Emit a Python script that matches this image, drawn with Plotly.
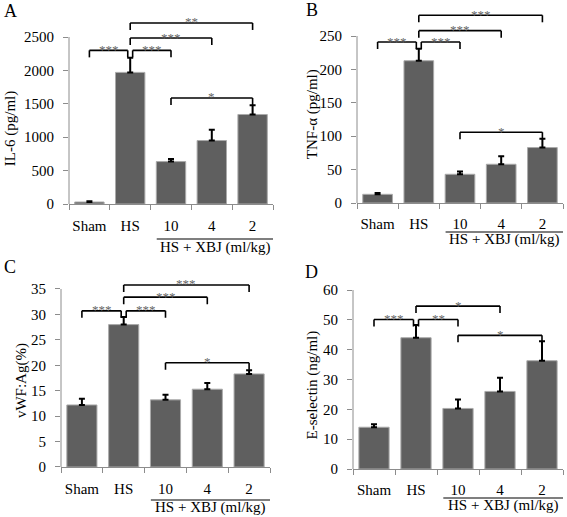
import plotly.graph_objects as go

W, H = 567, 517
FONT = "Liberation Serif"

categories = ["Sham", "HS", "10", "4", "2"]
group_label = "HS + XBJ (ml/kg)"

# Panel A: IL-6
il6_mean = [30, 1970, 635, 950, 1340]
il6_err = [12, 220, 40, 160, 140]
il6_ticks = [0, 500, 1000, 1500, 2000, 2500]
il6_sig = [(0, 1, 2300, "***"), (1, 2, 2300, "***"), (1, 3, 2485, "***"),
           (1, 4, 2710, "**"), (2, 4, 1587, "*")]

# Panel B: TNF-alpha
tnf_mean = [13, 213, 43, 58, 83]
tnf_err = [2, 18, 4, 12, 13]
tnf_ticks = [0, 50, 100, 150, 200, 250]
tnf_sig = [(0, 1, 241, "***"), (1, 2, 241, "***"), (1, 3, 258, "***"),
           (1, 4, 281, "***"), (2, 4, 106, "*")]

# Panel C: vWF:Ag
vwf_mean = [12.2, 28.0, 13.2, 15.3, 18.3]
vwf_err = [1.2, 1.5, 1.0, 1.2, 0.7]
vwf_ticks = [0, 5, 10, 15, 20, 25, 30, 35]
vwf_sig = [(0, 1, 30.7, "***"), (1, 2, 30.7, "***"), (1, 3, 33.4, "***"),
           (1, 4, 35.8, "***"), (2, 4, 20.5, "*")]

# Panel D: E-selectin
esel_mean = [14.0, 44.0, 20.3, 26.0, 36.3]
esel_err = [1.0, 4.3, 3.0, 4.6, 6.5]
esel_ticks = [0, 10, 20, 30, 40, 50, 60]
esel_sig = [(0, 1, 50.1, "***"), (1, 2, 50.1, "**"), (1, 3, 54.6, "*"),
            (2, 4, 44.8, "*")]

# layout geometry (pixels)
panels = [
    dict(letter="A", title="IL-6 (pg/ml)", mean=il6_mean, err=il6_err, ticks=il6_ticks, sig=il6_sig,
         left=69, right=273, zero=204, toppx=37, rtop=2800, tx=10, ty=1120, lx=2, ly=11,
         stand=8, gl=35, gt=43),
    dict(letter="B", title="TNF-α (pg/ml)", mean=tnf_mean, err=tnf_err, ticks=tnf_ticks, sig=tnf_sig,
         left=357, right=563, zero=203, toppx=36, rtop=295, tx=312, ty=133, lx=304, ly=10,
         stand=7, gl=29, gt=36),
    dict(letter="C", title="vWF:Ag(%)", mean=vwf_mean, err=vwf_err, ticks=vwf_ticks, sig=vwf_sig,
         left=61, right=270, zero=467, toppx=289, rtop=37, tx=21, ty=16.9, lx=2, ly=267,
         stand=8, gl=33, gt=41),
    dict(letter="D", title="E-selectin (ng/ml)", mean=esel_mean, err=esel_err, ticks=esel_ticks, sig=esel_sig,
         left=353, right=563, zero=469, toppx=290, rtop=60, tx=312, ty=28, lx=303, ly=272,
         stand=7, gl=29, gt=36),
]

AXIS_GRAY = "#8c8c8c"
fig = go.Figure()
shapes = []
annotations = []
layout = {}

for i, p in enumerate(panels, start=1):
    xr = "x" if i == 1 else f"x{i}"
    yr = "y" if i == 1 else f"y{i}"
    xkey = "xaxis" if i == 1 else f"xaxis{i}"
    ykey = "yaxis" if i == 1 else f"yaxis{i}"
    topval = p["ticks"][-1]
    scale = (p["zero"] - p["toppx"]) / topval
    top_px = p["zero"] - p["rtop"] * scale

    fig.add_trace(go.Bar(
        x=categories, y=p["mean"], xaxis=xr, yaxis=yr,
        marker=dict(color="#5f5f5f", line=dict(color="#aaaaaa", width=1)),
        error_y=dict(type="data", symmetric=False, array=p["err"],
                     arrayminus=[0] * len(p["err"]), color="black",
                     thickness=2, width=3),
        showlegend=False, hoverinfo="skip",
    ))

    layout[xkey] = dict(
        type="category", range=[-0.5, 4.5],
        domain=[p["left"] / W, p["right"] / W], anchor=yr,
        showline=True, linecolor=AXIS_GRAY, linewidth=1,
        ticks="outside", tickson="boundaries", ticklen=5, tickcolor=AXIS_GRAY,
        tickangle=0,
        tickfont=dict(family=FONT, size=15, color="black"),
        ticklabelstandoff=p["stand"], showgrid=False, fixedrange=True,
    )
    layout[ykey] = dict(
        range=[0, p["rtop"]],
        domain=[(H - p["zero"]) / H, (H - top_px) / H], anchor=xr,
        showline=False, ticks="outside", ticklen=5, tickcolor=AXIS_GRAY,
        tickvals=p["ticks"], ticktext=[str(t) for t in p["ticks"]],
        tickfont=dict(family=FONT, size=15, color="black"),
        ticklabelstandoff=6, showgrid=False, zeroline=False, fixedrange=True,
    )

    # y axis line up to top tick
    shapes.append(dict(type="line", xref=f"{xr} domain", yref=yr, x0=0, x1=0,
                       y0=0, y1=topval, line=dict(color=AXIS_GRAY, width=1)))

    # significance brackets
    for a, b, h, s in p["sig"]:
        x0 = a + (0.06 if (a == 1 and b - a == 1) else 0)
        x1 = b - (0.06 if (b == 1) else 0)
        shapes.append(dict(type="line", xref=xr, yref=yr, x0=x0, x1=x1, y0=h, y1=h,
                           line=dict(color="black", width=1.6)))
        for xx in (x0, x1):
            shapes.append(dict(type="line", xref=xr, yref=yr, x0=xx, x1=xx,
                               ysizemode="pixel", yanchor=h, y0=-7, y1=0,
                               line=dict(color="black", width=1.6)))
        annotations.append(dict(xref=xr, yref=yr, x=(x0 + x1) / 2, y=h, text=s,
                                showarrow=False, yanchor="middle", yshift=1,
                                font=dict(family=FONT, size=13, color="#666666")))

    # group line and label
    gy = (H - (p["zero"] + p["gl"])) / H
    shapes.append(dict(type="line", xref=xr, yref="paper", x0=1.65, x1=4.5, y0=gy, y1=gy,
                       line=dict(color="black", width=1.2)))
    annotations.append(dict(xref=xr, yref="paper", x=3.08,
                            y=(H - (p["zero"] + p["gt"])) / H, text=group_label,
                            showarrow=False, yanchor="middle",
                            font=dict(family=FONT, size=15, color="black")))

    # y title
    annotations.append(dict(xref="paper", yref=yr, x=p["tx"] / W, y=p["ty"], text=p["title"],
                            textangle=-90, showarrow=False, xanchor="center", yanchor="middle",
                            font=dict(family=FONT, size=15, color="black")))
    # panel letter
    annotations.append(dict(xref="paper", yref="paper", x=p["lx"] / W, y=(H - p["ly"]) / H,
                            text=p["letter"], showarrow=False, xanchor="left", yanchor="middle",
                            font=dict(family=FONT, size=18, color="black")))

fig.update_layout(
    width=W, height=H, margin=dict(l=0, r=0, t=0, b=0, autoexpand=False),
    paper_bgcolor="white", plot_bgcolor="white",
    bargap=0.28, shapes=shapes, annotations=annotations, **layout,
)

fig.write_html("out.html", config={"displayModeBar": False},
               post_script="document.body.style.margin='0px';document.body.style.overflow='hidden';")
